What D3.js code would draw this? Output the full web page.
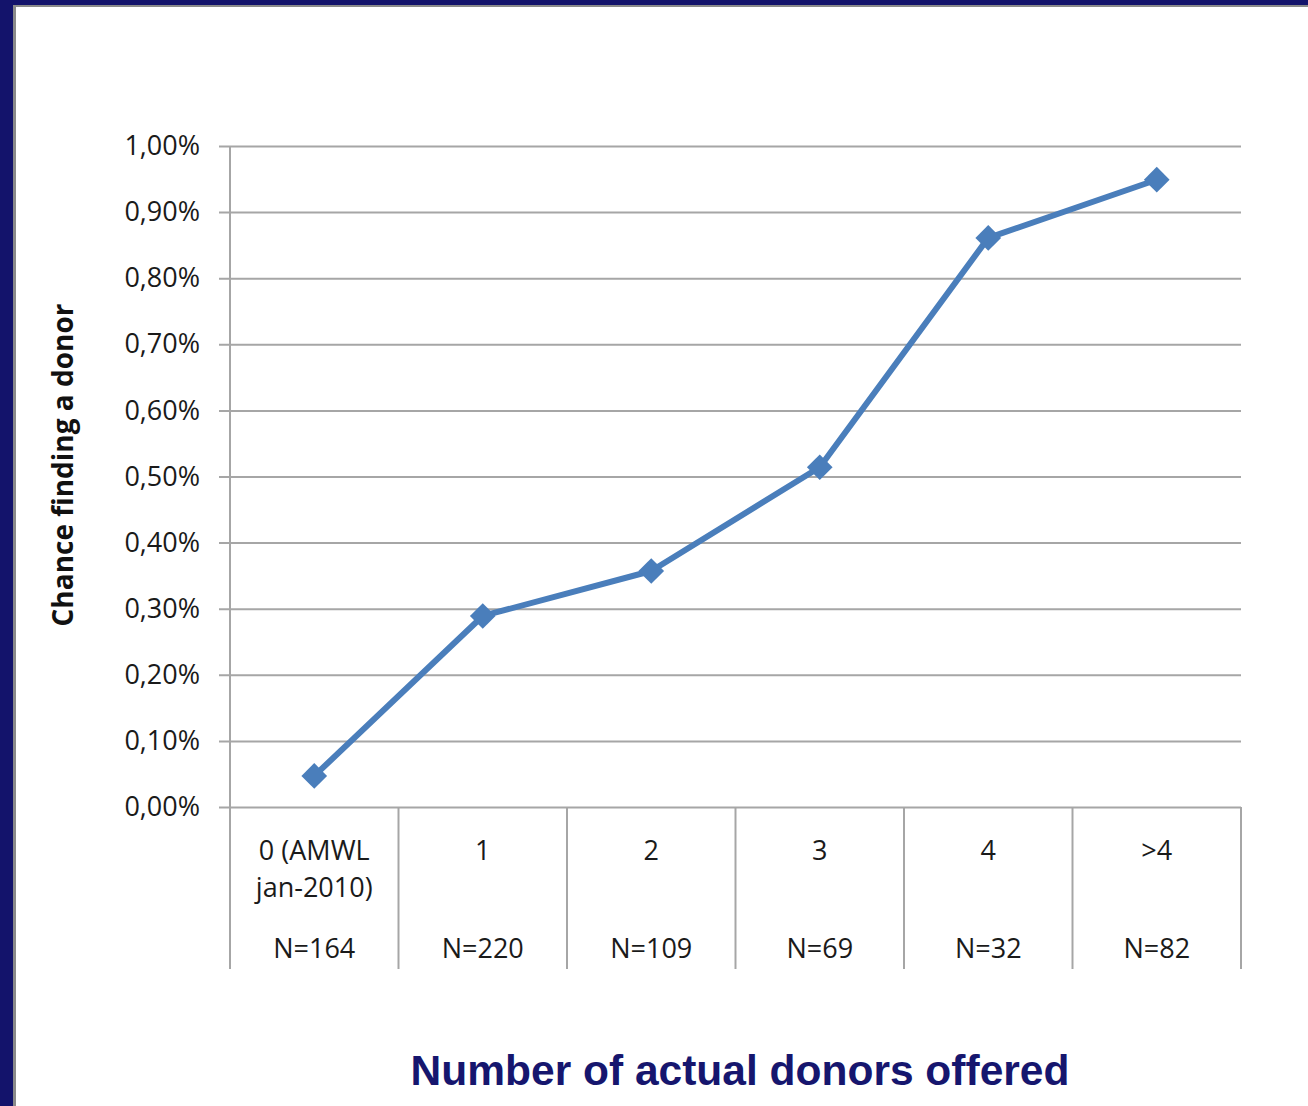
<!DOCTYPE html>
<html>
<head>
<meta charset="utf-8">
<script src="https://cdn.jsdelivr.net/npm/d3@7"></script>
<style>
  body { margin: 0; background: #fff; }
  svg { display: block; }
</style>
</head>
<body>
<div id="chart"></div>
<script>
// chart data
const categoryLines = [["0 (AMWL", "jan-2010)"], ["1"], ["2"], ["3"], ["4"], [">4"]];
const categories = categoryLines.map((d) => d.join(" "));
const counts = [164, 220, 109, 69, 32, 82];
const values = [0.047, 0.289, 0.357, 0.514, 0.861, 0.949]; // in percent
const yTicks = [0, 0.1, 0.2, 0.3, 0.4, 0.5, 0.6, 0.7, 0.8, 0.9, 1.0];

const width = 1308;
const height = 1106;

const svg = d3
  .select("#chart")
  .append("svg")
  .attr("width", width)
  .attr("height", height);

// slide frame (navy edge on left and top)
svg.append("rect").attr("x", 0).attr("y", 0).attr("width", width).attr("height", 5).attr("fill", "#13136b");
svg.append("rect").attr("x", 0).attr("y", 5).attr("width", width).attr("height", 2).attr("fill", "#8a8a8a");
svg.append("rect").attr("x", 0).attr("y", 0).attr("width", 13).attr("height", height).attr("fill", "#13136b");
svg.append("rect").attr("x", 13).attr("y", 5).attr("width", 3).attr("height", height).attr("fill", "#8a8a8a");

const plot = { left: 230, right: 1241, top: 146, bottom: 807, tableBottom: 969 };

const x = d3
  .scaleBand()
  .domain(categories)
  .range([plot.left, plot.right]);

const y = d3
  .scaleLinear()
  .domain([0, 1.0])
  .range([plot.bottom, plot.top]);

const fmt = d3.formatLocale({ decimal: ",", thousands: ".", grouping: [3], currency: ["", "€"] }).format(".2f");

// horizontal gridlines + tick labels
const yAxis = svg
  .append("g")
  .attr("transform", `translate(${plot.left - 11},0)`)
  .call(
    d3.axisLeft(y)
      .tickValues(yTicks)
      .tickSize(-(plot.right - plot.left + 11))
      .tickPadding(19)
      .tickFormat((d) => fmt(d) + "%")
  );
yAxis.select(".domain").remove();
yAxis.selectAll(".tick line").attr("stroke", "#a6a6a6").attr("stroke-width", 2);
yAxis
  .selectAll(".tick text")
  .attr("font-family", "Open Sans, sans-serif")
  .attr("font-size", 27)
  .attr("fill", "#1a1a1a");

// vertical axis line and category separators
const bounds = categories.map((c) => x(c)).concat([plot.right]);
svg
  .append("line")
  .attr("x1", plot.left)
  .attr("x2", plot.left)
  .attr("y1", plot.top)
  .attr("y2", plot.tableBottom)
  .attr("stroke", "#a6a6a6")
  .attr("stroke-width", 2);
svg
  .selectAll("line.sep")
  .data(bounds.slice(1))
  .enter()
  .append("line")
  .attr("class", "sep")
  .attr("x1", (d) => d)
  .attr("x2", (d) => d)
  .attr("y1", plot.bottom)
  .attr("y2", plot.tableBottom)
  .attr("stroke", "#a6a6a6")
  .attr("stroke-width", 2);

// category labels
const cat = svg
  .selectAll("g.cat")
  .data(categories)
  .enter()
  .append("g")
  .attr("class", "cat")
  .attr("transform", (d) => `translate(${x(d) + x.bandwidth() / 2},0)`);

cat.each(function (d, i) {
  const g = d3.select(this);
  categoryLines[i].forEach((line, j) => {
    g.append("text")
      .attr("y", 860 + j * 37)
      .attr("text-anchor", "middle")
      .attr("font-family", "Open Sans, sans-serif")
      .attr("font-size", 27)
      .attr("fill", "#1a1a1a")
      .text(line);
  });
  g.append("text")
    .attr("y", 958)
    .attr("text-anchor", "middle")
    .attr("font-family", "Open Sans, sans-serif")
    .attr("font-size", 27)
    .attr("fill", "#1a1a1a")
    .text("N=" + counts[i]);
});

// the line
const pts = categories.map((c, i) => ({ c: c, v: values[i] }));
const line = d3
  .line()
  .x((d) => x(d.c) + x.bandwidth() / 2)
  .y((d) => y(d.v));

svg
  .append("path")
  .datum(pts)
  .attr("d", line)
  .attr("fill", "none")
  .attr("stroke", "#4a7ebb")
  .attr("stroke-width", 6)
  .attr("stroke-linejoin", "round");

// diamond markers (rotated squares)
svg
  .selectAll("path.marker")
  .data(pts)
  .enter()
  .append("path")
  .attr("class", "marker")
  .attr("d", d3.symbol(d3.symbolSquare, 330))
  .attr("transform", (d) => `translate(${x(d.c) + x.bandwidth() / 2},${y(d.v)}) rotate(45)`)
  .attr("fill", "#4a7ebb");

// axis titles
svg
  .append("text")
  .attr("transform", "translate(73,465) rotate(-90)")
  .attr("text-anchor", "middle")
  .attr("font-family", "Open Sans, sans-serif")
  .attr("font-weight", "bold")
  .attr("font-size", 28)
  .attr("fill", "#111")
  .text("Chance finding a donor");

svg
  .append("text")
  .attr("x", 740)
  .attr("y", 1085)
  .attr("text-anchor", "middle")
  .attr("font-family", "Liberation Sans, Arial, sans-serif")
  .attr("font-weight", "bold")
  .attr("font-size", 42.5)
  .attr("fill", "#16166e")
  .text("Number of actual donors offered");
</script>
</body>
</html>
